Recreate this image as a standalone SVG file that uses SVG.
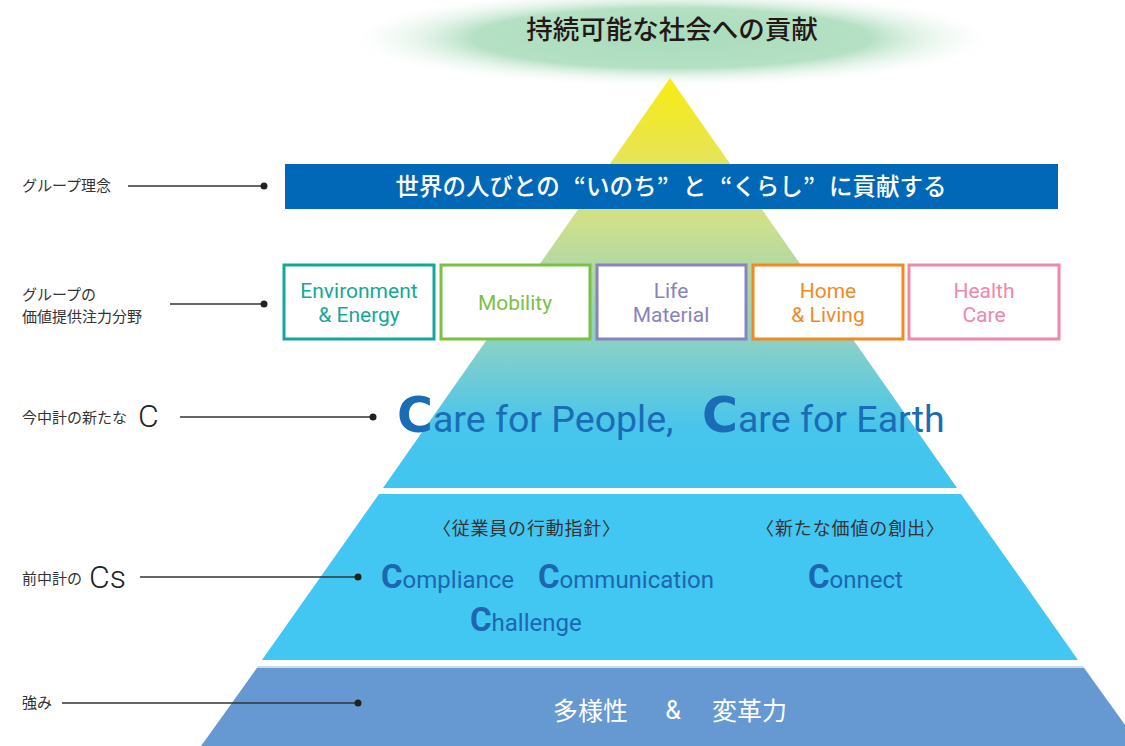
<svg xmlns="http://www.w3.org/2000/svg" width="1125" height="746" viewBox="0 0 1125 746">
<defs>
<radialGradient id="glow" cx="0.5" cy="0.5" r="0.5">
<stop offset="0" stop-color="#a9dcbc"/>
<stop offset="0.6" stop-color="#b5e0c4"/>
<stop offset="1" stop-color="#ffffff" stop-opacity="0"/>
</radialGradient>
<linearGradient id="pyr" gradientUnits="userSpaceOnUse" x1="0" y1="78" x2="0" y2="488">
<stop offset="0" stop-color="#f8ec0f"/>
<stop offset="0.2" stop-color="#e6e458"/>
<stop offset="0.35" stop-color="#cfe08c"/>
<stop offset="0.45" stop-color="#b4d9a0"/>
<stop offset="0.65" stop-color="#88d0c8"/>
<stop offset="0.85" stop-color="#48c5ec"/>
<stop offset="1" stop-color="#41c5f0"/>
</linearGradient>
<style>
.jp{font-family:"Noto Sans CJK JP","Noto Sans",sans-serif;}
.lbl{font-family:"Noto Sans CJK JP","Noto Sans",sans-serif;font-size:15px;fill:#333;}
.lat{font-family:Roboto,"Noto Sans",sans-serif;}
.thinC{font-family:Roboto,"Noto Sans",sans-serif;font-size:32px;font-weight:300;fill:#222;}
.box{fill:#fff;stroke-width:3;}
.btxt{font-family:Roboto,"Noto Sans",sans-serif;font-size:21px;text-anchor:middle;}
.care{font-family:Roboto,"Noto Sans",sans-serif;font-size:37.5px;fill:#1a6db5;}
.bigC{font-family:"DejaVu Sans",Roboto,sans-serif;font-size:49px;font-weight:bold;}
.cs{font-family:Roboto,"Noto Sans",sans-serif;font-size:24px;fill:#1c67b0;}
.csC{font-size:33px;font-weight:bold;}
.conn{stroke:#333;stroke-width:1.3;fill:none;}
.dot{fill:#222;}
</style>
</defs>
<rect width="1125" height="746" fill="#fff"/>

<g id="goal">
<ellipse cx="672" cy="38" rx="330" ry="50" fill="url(#glow)"/>
<text class="jp" x="672" y="39" font-size="26.5" font-weight="500" fill="#231815" text-anchor="middle">持続可能な社会への貢献</text>
</g>

<g id="pyramid-top">
<polygon points="670,78 957,488 383,488" fill="url(#pyr)"/>
</g>

<g id="philosophy">
<rect x="285" y="164" width="773" height="45" fill="#0068b6"/>
<text class="jp" x="671" y="195" font-size="23.5" font-weight="500" fill="#fff" text-anchor="middle">世界の人びとの<tspan dx="14">“いのち”</tspan><tspan dx="14">と</tspan><tspan dx="14">“くらし”</tspan><tspan dx="14">に貢献する</tspan></text>
</g>

<g id="fields">
<g id="env"><rect class="box" x="284" y="265" width="150" height="74" stroke="#14a89a"/>
<text class="btxt" fill="#14a89a"><tspan x="359" y="298">Environment</tspan><tspan x="359" y="322">&amp; Energy</tspan></text></g>
<g id="mob"><rect class="box" x="441" y="265" width="149" height="74" stroke="#7ac143"/>
<text class="btxt" fill="#7ac143" x="515" y="310">Mobility</text></g>
<g id="life"><rect class="box" x="597" y="265" width="149" height="74" stroke="#8a82c0"/>
<text class="btxt" fill="#8a82c0"><tspan x="671" y="298">Life</tspan><tspan x="671" y="322">Material</tspan></text></g>
<g id="home"><rect class="box" x="753" y="265" width="150" height="74" stroke="#f38a1f"/>
<text class="btxt" fill="#f38a1f"><tspan x="828" y="298">Home</tspan><tspan x="828" y="322">&amp; Living</tspan></text></g>
<g id="health"><rect class="box" x="909" y="265" width="150" height="74" stroke="#f088a8"/>
<text class="btxt" fill="#f088a8"><tspan x="984" y="298">Health</tspan><tspan x="984" y="322">Care</tspan></text></g>
</g>

<g id="care">
<text class="care" x="397" y="432"><tspan class="bigC">C</tspan>are for People,</text>
<text class="care" x="702" y="432"><tspan class="bigC">C</tspan>are for Earth</text>
</g>

<g id="cs-tier">
<polygon points="379,494 961,494 1078,660 262,660" fill="#42c6f2"/>
<text class="jp" x="433" y="535" font-size="18" fill="#333" textLength="187">〈従業員の行動指針〉</text>
<text class="jp" x="756" y="535" font-size="18" fill="#333" textLength="188">〈新たな価値の創出〉</text>
<text class="cs" x="381" y="588"><tspan class="csC">C</tspan>ompliance</text>
<text class="cs" x="538" y="588"><tspan class="csC">C</tspan>ommunication</text>
<text class="cs" x="808" y="588"><tspan class="csC">C</tspan>onnect</text>
<text class="cs" x="470" y="631"><tspan class="csC">C</tspan>hallenge</text>
</g>

<g id="strength">
<polygon points="258,666 1083,666 1140,746 202,746" fill="#c6dcef"/>
<polygon points="257,668 1084,668 1140,746 201,746" fill="#6699d1"/>
<text class="jp" x="553" y="720" font-size="25" fill="#fff">多様性</text>
<text class="lat" x="673" y="719" font-size="25" fill="#fff" text-anchor="middle">&amp;</text>
<text class="jp" x="712" y="720" font-size="25" fill="#fff">変革力</text>
</g>

<g id="labels">
<text class="lbl" x="22" y="191">グループ理念</text>
<text class="lbl" x="22" y="300">グループの</text>
<text class="lbl" x="22" y="322">価値提供注力分野</text>
<text class="lbl" x="22" y="423">今中計の新たな</text>
<text class="thinC" x="138" y="427">C</text>
<text class="lbl" x="22" y="584">前中計の</text>
<text class="thinC" x="89" y="588">Cs</text>
<text class="lbl" x="22" y="708">強み</text>
</g>

<g id="connectors">
<line class="conn" x1="128" y1="186" x2="264" y2="186"/><circle class="dot" cx="264" cy="186" r="3.5"/>
<line class="conn" x1="170" y1="304" x2="264" y2="304"/><circle class="dot" cx="264" cy="304" r="3.5"/>
<line class="conn" x1="180" y1="417" x2="373" y2="417"/><circle class="dot" cx="373" cy="417" r="3.5"/>
<line class="conn" x1="140" y1="577" x2="358" y2="577"/><circle class="dot" cx="358" cy="577" r="3.5"/>
<line class="conn" x1="62" y1="703" x2="358" y2="703"/><circle class="dot" cx="358" cy="703" r="3.5"/>
</g>
</svg>
